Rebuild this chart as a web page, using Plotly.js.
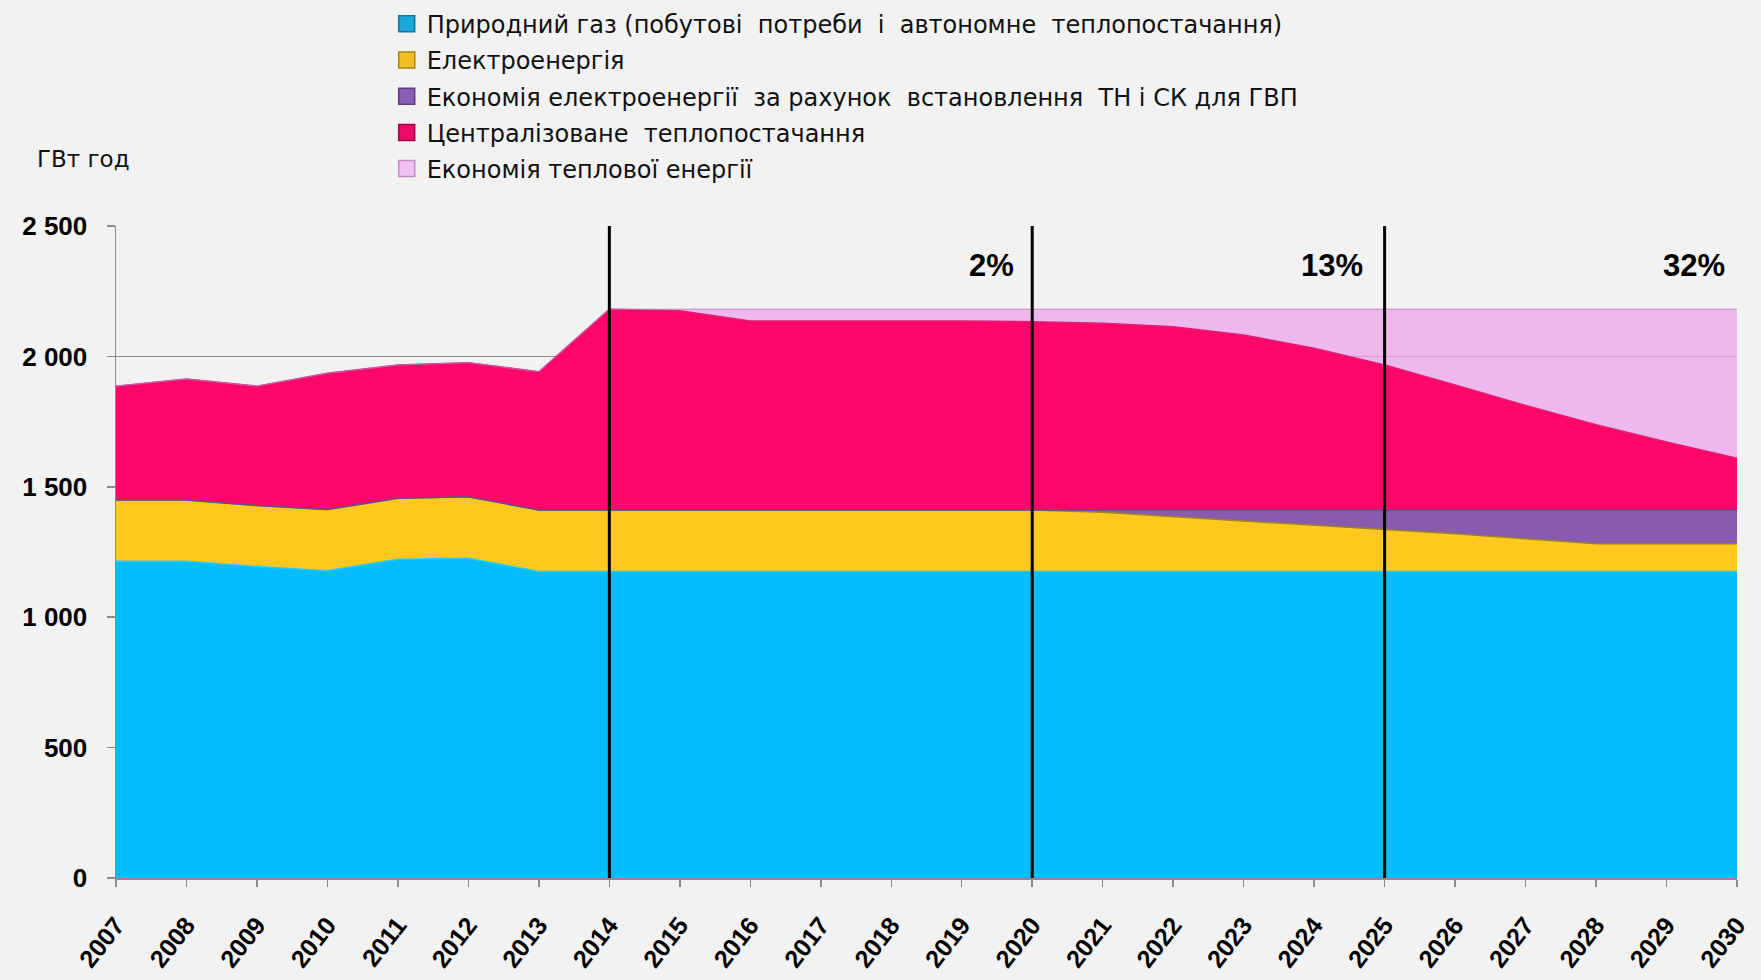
<!DOCTYPE html>
<html>
<head>
<meta charset="utf-8">
<script src="https://cdn.plot.ly/plotly-3.0.1.min.js"></script>
<style>
html,body{margin:0;padding:0;background:#f2f2f2;}
#chart{width:1761px;height:980px;}
</style>
</head>
<body>
<div id="chart"></div>
<script>
// ---- data (GWh) ----
const years = [2007,2008,2009,2010,2011,2012,2013,2014,2015,2016,2017,2018,2019,2020,2021,2022,2023,2024,2025,2026,2027,2028,2029,2030];
const naturalGas   = [1215,1215,1194,1178,1222,1226,1175,1175,1175,1175,1175,1175,1175,1175,1175,1175,1175,1175,1175,1175,1175,1175,1175,1175];
const electricity  = [234,234,234,235,234,236,236,236,236,236,236,236,236,236,227,211,195,178,163,145,126,107,107,107];
const elecSavings  = [0,0,0,0,0,0,0,0,0,0,0,0,0,0,9,25,41,58,73,91,110,129,129,129];
const districtHeat = [437,464,458,522,511,514,530,770,764,725,725,725,725,722,716,703,671,620,556,479,401,327,261,198];
const heatSavings  = [0,0,0,0,0,0,0,0,6,45,45,45,45,48,54,67,99,150,214,291,369,443,509,572];

const seriesNames = [
  "Природний газ (побутові  потреби  і  автономне  теплопостачання)",
  "Електроенергія",
  "Економія електроенергії  за рахунок  встановлення  ТН і СК для ГВП",
  "Централізоване  теплопостачання",
  "Економія теплової енергії"
];
const yTickVals = [0, 500, 1000, 1500, 2000, 2500];
const markerYears = [2014, 2020, 2025];
const pctLabels = ["2%", "13%", "32%"];
const pctYears = [2020, 2025, 2030];
const pctY = 2350;

// ---- styles ----
const fills = ["#06bdfc", "#fec81e", "#8a5aaf", "#fe066a", "rgba(236,160,236,0.70)"];
const edges = ["#2cc8f5", "#9a8428", "#6b4a8a", "#e01c72", "#b87ab8"];
const legendFill = ["#19a8dc", "#f2bd22", "#8c5db4", "#f00a68", "#f2bff2"];
const legendEdge = ["#13769c", "#a8830f", "#5e3c80", "#9c0a46", "#c58ac5"];
const valuesList = [naturalGas, electricity, elecSavings, districtHeat, heatSavings];

const traces = [];
valuesList.forEach((vals, i) => {
  traces.push({
    type: "scatter", mode: "lines", x: years, y: vals,
    stackgroup: "one", fill: "tonexty", fillcolor: fills[i],
    line: {color: edges[i], width: i === 4 ? 0.8 : 1.5},
    showlegend: false, hoverinfo: "x+y", name: seriesNames[i]
  });
});
valuesList.forEach((vals, i) => {
  traces.push({
    type: "scatter", mode: "markers", x: [null], y: [null],
    name: seriesNames[i], showlegend: true, legendgroup: "g" + i,
    marker: {symbol: "square", size: 16, color: legendFill[i], line: {color: legendEdge[i], width: 1.5}}
  });
});

const shapes = markerYears.map(yr => ({
  type: "line", xref: "x", yref: "y", x0: yr, x1: yr, y0: 0, y1: 2500,
  line: {color: "#000", width: 3}, layer: "above"
}));

const annotations = pctLabels.map((t, i) => ({
  x: pctYears[i], y: pctY, xref: "x", yref: "y", text: t, showarrow: false,
  xanchor: "right", yanchor: "middle", xshift: i === 2 ? -10 : (i === 1 ? -20 : -16),
  font: {family: "Liberation Sans, Arial, sans-serif", size: 31, color: "#000", weight: "bold"}
}));
annotations.push({
  xref: "paper", yref: "paper", x: -0.05, y: 1.103, xanchor: "left", yanchor: "middle",
  text: "ГВт год", showarrow: false,
  font: {family: "DejaVu Sans, sans-serif", size: 23, color: "#111"}
});

const layout = {
  width: 1761, height: 980,
  paper_bgcolor: "#f2f2f2", plot_bgcolor: "#f2f2f2",
  margin: {l: 116, r: 24, t: 226, b: 102, autoexpand: false},
  separators: ". ",
  showlegend: true,
  legend: {
    x: 0.167, y: 1.344, xanchor: "left", yanchor: "top",
    bgcolor: "rgba(0,0,0,0)", traceorder: "grouped", tracegroupgap: 2,
    font: {family: "DejaVu Sans, sans-serif", size: 24, color: "#111"},
    itemwidth: 30
  },
  xaxis: {
    range: [2007, 2030], tickmode: "array", tickvals: years, ticktext: years.map(String),
    tickangle: -52, ticks: "outside", ticklen: 7, tickcolor: "#8c8c8c", tickwidth: 1.5,
    ticklabelstandoff: 14,
    showline: true, linecolor: "#8c8c8c", linewidth: 1.5, showgrid: false, zeroline: false,
    tickfont: {family: "Liberation Sans, Arial, sans-serif", size: 25, color: "#000", weight: "bold"}
  },
  yaxis: {
    range: [0, 2500], tickmode: "array", tickvals: yTickVals, tickformat: ",d",
    ticks: "outside", ticklen: 8, tickcolor: "#8c8c8c", tickwidth: 1.5,
    ticklabelstandoff: 14,
    showline: true, linecolor: "#8c8c8c", linewidth: 1.5,
    showgrid: true, gridcolor: "#8c8c8c", gridwidth: 1, zeroline: false,
    tickfont: {family: "Liberation Sans, Arial, sans-serif", size: 26, color: "#000", weight: "bold"}
  },
  shapes: shapes,
  annotations: annotations
};

Plotly.newPlot("chart", traces, layout, {displayModeBar: false, staticPlot: true});
</script>
</body>
</html>
